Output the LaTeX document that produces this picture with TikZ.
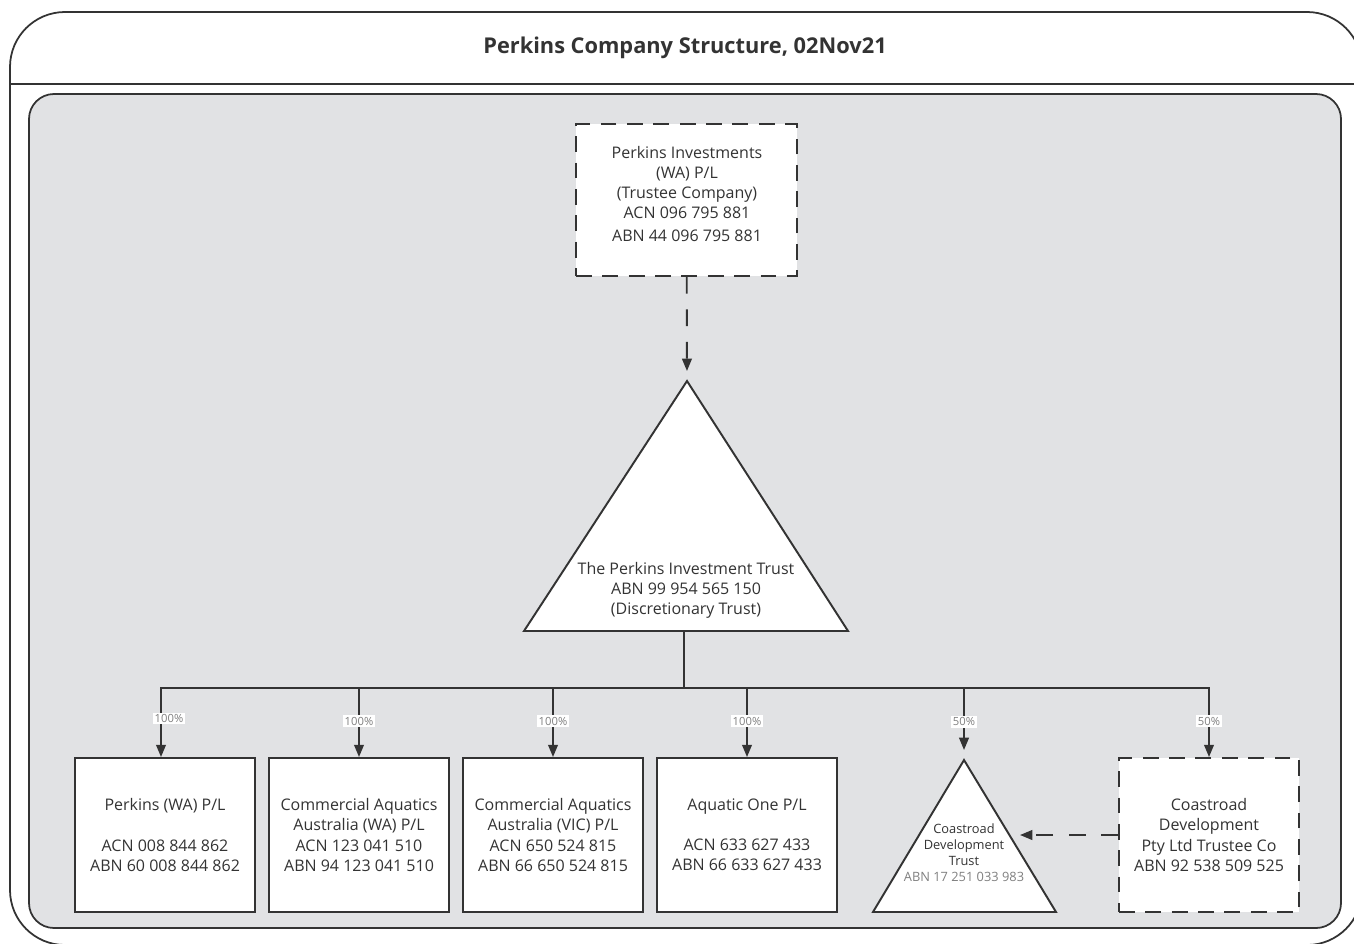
\documentclass[tikz,border=0pt]{standalone}
\usepackage{fontspec}
\setmainfont{Open Sans}
\usetikzlibrary{arrows.meta}
\definecolor{ink}{HTML}{333333}
\definecolor{panel}{HTML}{E1E2E4}
\begin{document}
\begin{tikzpicture}[x=0.02cm, y=-0.02cm,
    font=\fontsize{9.1}{11.4}\selectfont,
    entity/.style={draw=ink, fill=white, line width=1.1pt, minimum width=3.6cm,
        minimum height=3.08cm, align=center, inner sep=0pt, text=ink},
    trustee/.style={entity, dash pattern=on 9pt off 6pt},
    txt/.style={align=center, text=ink, inner sep=0pt},
    link/.style={draw=ink, line width=1.1pt, -{Triangle[length=7pt, width=5.5pt]}},
    dlink/.style={link, dash pattern=on 9.5pt off 9pt},
    pct/.style={fill=white, text=gray, font=\fontsize{6.4}{7}\selectfont, inner sep=1pt}]
    \useasboundingbox (0,0) rectangle (1354,943);
    \clip (0,0) rectangle (1354,943);

    % === Cornice esterna e titolo ===
    \draw[ink, line width=1pt, rounded corners=1.1cm] (10,12) rectangle (1362,945);
    \draw[ink, line width=1pt] (10,84) -- (1362,84);
    \node[txt, font=\fontsize{12.4}{14}\selectfont\bfseries] (title) at (685,48) {Perkins Company Structure, 02Nov21};
    \draw[ink, fill=panel, line width=1pt, rounded corners=0.5cm] (29,94) rectangle (1341,928);

    % === Trustee e trust principale ===
    \node[trustee, minimum width=4.42cm, minimum height=3.04cm] (trustee) at (686.5,200) {};
    \node[txt] (trusteeTxt) at (687,194) {Perkins Investments\\(WA) P/L\\(Trustee Company)\\ACN 096 795 881\\[2pt]ABN 44 096 795 881};
    \draw[ink, fill=white, line width=1.1pt] (687,381) -- (848,631) -- (524,631) -- cycle;
    \coordinate (trustTop) at (687,381);
    \coordinate (trustBase) at (684,631);
    \node[txt] (trust) at (686,590) {The Perkins Investment Trust\\ABN 99 954 565 150\\(Discretionary Trust)};
    \draw[dlink, shorten >=0.2cm] (trustee) -- (trustTop);

    % === Societa' controllate ===
    \node[entity] (perkinsWA) at (165,835) {Perkins (WA) P/L\\[11.4pt]ACN 008 844 862\\ABN 60 008 844 862};
    \node[entity] (caaWA) at (359,835) {Commercial Aquatics\\Australia (WA) P/L\\ACN 123 041 510\\ABN 94 123 041 510};
    \node[entity] (caaVIC) at (553,835) {Commercial Aquatics\\Australia (VIC) P/L\\ACN 650 524 815\\ABN 66 650 524 815};
    \node[entity] (aquaticOne) at (747,835) {Aquatic One P/L\\[11.4pt]ACN 633 627 433\\ABN 66 633 627 433};
    \node[trustee] (coastCo) at (1209,835) {Coastroad\\Development\\Pty Ltd Trustee Co\\ABN 92 538 509 525};

    % Trust Coastroad (triangolo piccolo)
    \draw[ink, fill=white, line width=1.1pt] (964,760) -- (1056,912) -- (873,912) -- cycle;
    \coordinate (coastTop) at (964,760);
    \coordinate (coastTip) at (1020,835);
    \node[txt, font=\fontsize{7.3}{9.1}\selectfont] (coastTrust) at (964,853) {Coastroad\\Development\\Trust\\\textcolor{gray}{ABN 17 251 033 983}};

    % === Collegamenti ===
    \coordinate (bus) at (684,688);
    \draw[ink, line width=1.1pt] (trustBase) -- (bus);
    \draw[link] (bus) -| node[pct, pos=0.72, xshift=0.16cm] {100\%} ([xshift=-0.08cm]perkinsWA.north);
    \draw[link] (bus) -| node[pct, pos=0.74] {100\%} (caaWA);
    \draw[link] (bus) -| node[pct, pos=0.74] {100\%} (caaVIC);
    \draw[link] (bus) -| node[pct, pos=0.74] {100\%} (aquaticOne);
    \draw[link, shorten >=0.2cm] (bus) -| node[pct, pos=0.735] {50\%} (coastTop);
    \draw[link] (bus) -| node[pct, pos=0.74] {50\%} (coastCo);
    \draw[dlink] (coastCo) -- (coastTip);
\end{tikzpicture}
\end{document}
